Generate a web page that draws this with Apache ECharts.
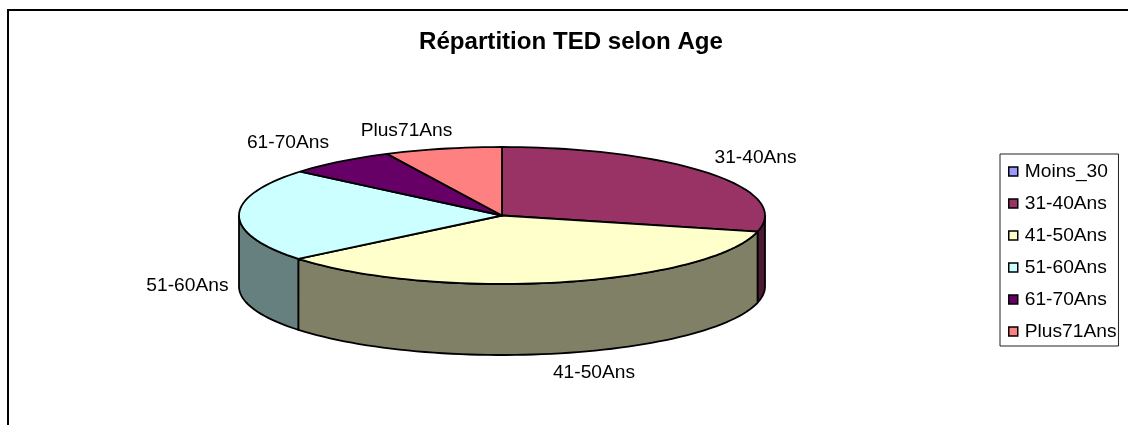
<!DOCTYPE html>
<html>
<head>
<meta charset="utf-8">
<style>html,body{margin:0;padding:0;background:#fff}#chart{width:1128px;height:425px}</style>
<script src="https://cdn.jsdelivr.net/npm/echarts@6/dist/echarts.min.js"></script>
</head>
<body>
<div id="chart"></div>
<script>
const categories = ['Moins_30', '31-40Ans', '41-50Ans', '51-60Ans', '61-70Ans', 'Plus71Ans'];
const values = [0, 28.8, 35.3, 22, 6.7, 7.2];
const topColors = ['#9999ff', '#993366', '#ffffcc', '#ccffff', '#660066', '#ff8080'];
const wallColors = ['#4d4d80', '#4d1a33', '#808066', '#668080', '#330033', '#804040'];

// pie layout, Excel style tilted disc
const cx = 502, cy = 215.5, rx = 263, ry = 68.5, depth = 71;
const labelFont = '19.2px "Liberation Sans", Arial, sans-serif';
// label anchor: x, y (middle), align
const labelPos = [null, [714.5, 158, 'left'], [594, 373, 'center'], [228.5, 286, 'right'], [288, 143, 'center'], [406.5, 131, 'center']];

const total = values.reduce((a, b) => a + b, 0);

function arc(a, b, dy) {
  const pts = [];
  const n = Math.max(2, Math.ceil((b - a) / 2));
  for (let i = 0; i <= n; i++) {
    const t = (a + (b - a) * i / n) * Math.PI / 180;
    pts.push([cx + rx * Math.sin(t), cy - ry * Math.cos(t) + dy]);
  }
  return pts;
}

function renderSlice(params, api) {
  const idx = params.seriesIndex;
  const v = api.value(0);
  if (!v) return null;
  let before = 0;
  for (let i = 0; i < idx; i++) before += values[i];
  const a = before / total * 360;
  const b = a + v / total * 360;
  const children = [];
  // side wall, only the front half of the disc shows
  const wa = Math.max(a, 90), wb = Math.min(b, 270);
  if (wb > wa) {
    children.push({
      type: 'polygon',
      shape: { points: arc(wa, wb, 0).concat(arc(wa, wb, depth).reverse()) },
      style: { fill: wallColors[idx], stroke: '#000', lineWidth: 1.8 }
    });
  }
  children.push({
    type: 'polygon',
    shape: { points: [[cx, cy]].concat(arc(a, b, 0)) },
    style: { fill: topColors[idx], stroke: '#000', lineWidth: 1.8, lineJoin: 'round' }
  });
  const lp = labelPos[idx];
  children.push({
    type: 'text',
    style: { text: categories[idx], x: lp[0], y: lp[1], align: lp[2], verticalAlign: 'middle', font: labelFont, fill: '#000' }
  });
  return { type: 'group', children: children };
}

const chart = echarts.init(document.getElementById('chart'), null, { renderer: 'canvas' });

chart.setOption({
  animation: false,
  backgroundColor: '#fff',
  title: {
    text: 'Répartition TED selon Age',
    left: 566,
    top: 25,
    textAlign: 'center',
    textStyle: { fontFamily: 'Liberation Sans', fontSize: 24.1, fontWeight: 'bold', color: '#000' }
  },
  legend: {
    orient: 'vertical',
    left: 1000,
    top: 154,
    padding: [8, 2, 5, 8],
    itemGap: 13,
    itemWidth: 9,
    itemHeight: 9,
    icon: 'rect',
    borderColor: '#222',
    borderWidth: 1,
    selectedMode: false,
    textStyle: { fontFamily: 'Liberation Sans', fontSize: 19.2, color: '#000', padding: [0, 0, 0, 2] },
    itemStyle: { borderColor: '#000', borderWidth: 1.5 },
    data: categories
  },
  series: categories.map((name, i) => ({
    type: 'custom',
    name: name,
    coordinateSystem: 'none',
    silent: true,
    itemStyle: { color: topColors[i] },
    renderItem: renderSlice,
    data: [[values[i]]]
  })),
  graphic: [{
    type: 'polyline',
    silent: true,
    shape: { points: [[8, 425], [8, 10], [1128, 10]] },
    style: { stroke: '#000', lineWidth: 2, fill: null }
  }]
});
</script>
</body>
</html>
